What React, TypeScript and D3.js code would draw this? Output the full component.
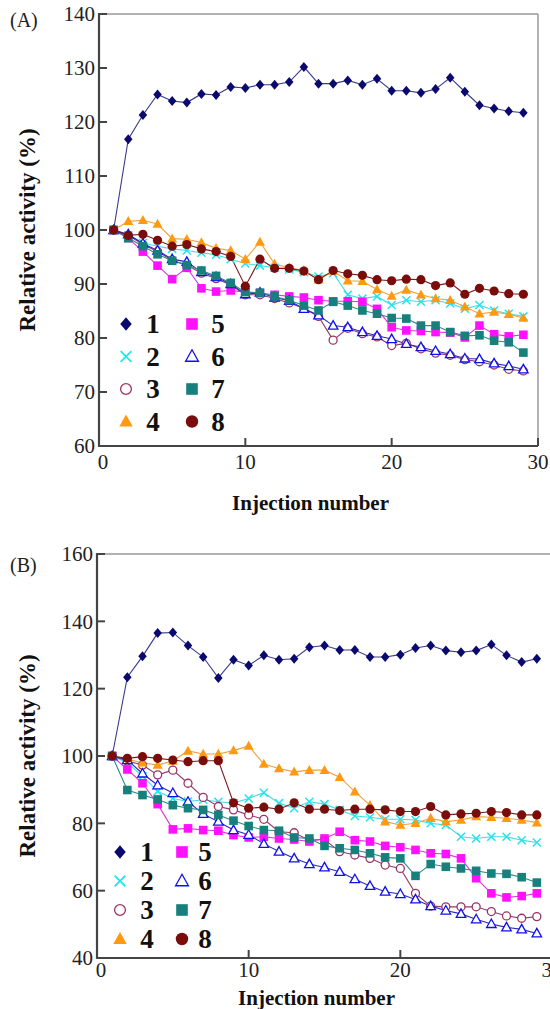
import React from 'react';
import * as d3 from 'd3';

// injection numbers 1..29
const injections = d3.range(1, 30);

// panel (A) relative activity, series 1-8
const a1 = [100, 116.8, 121.3, 125.1, 123.9, 123.6, 125.2, 125.0, 126.5, 126.3, 126.9, 126.9, 127.4, 130.2, 127.1, 127.1, 127.7, 126.9, 128.0, 125.8, 125.8, 125.4, 126.1, 128.2, 125.6, 123.1, 122.5, 122.0, 121.7];
const a2 = [100, 99.0, 97.6, 97.0, 96.5, 96.2, 95.8, 95.4, 94.6, 93.8, 93.4, 93.0, 92.7, 92.2, 91.4, 92.0, 88.0, 87.3, 87.7, 86.1, 87.0, 86.7, 87.0, 86.4, 85.4, 86.1, 85.1, 84.5, 84.0];
const a3 = [100, 99.0, 97.3, 96.0, 94.4, 93.5, 92.0, 91.0, 89.8, 88.0, 88.0, 87.3, 86.5, 85.5, 84.0, 79.6, 81.8, 80.8, 80.2, 78.6, 79.0, 78.0, 77.2, 76.8, 76.0, 75.6, 75.0, 74.2, 73.9];
const a4 = [100, 101.6, 101.8, 101.1, 98.4, 98.3, 97.7, 96.6, 96.2, 94.6, 97.8, 93.7, 93.0, 92.5, 90.8, 92.4, 90.6, 90.5, 89.0, 87.8, 88.9, 88.0, 87.3, 87.0, 85.8, 84.5, 84.8, 84.4, 83.7];
const a5 = [100, 98.5, 96.0, 93.4, 90.9, 93.0, 89.2, 88.6, 88.8, 88.5, 88.3, 88.0, 87.7, 87.5, 87.0, 86.8, 86.8, 86.7, 85.4, 82.0, 81.4, 81.3, 81.1, 81.0, 80.1, 82.3, 80.7, 80.3, 80.6];
const a6 = [100, 99.2, 97.5, 96.2, 94.6, 94.1, 92.2, 91.3, 90.0, 88.1, 88.4, 87.5, 86.9, 85.4, 84.2, 82.3, 82.0, 81.1, 80.4, 79.8, 78.9, 78.3, 77.6, 77.0, 76.2, 76.1, 75.3, 74.8, 74.2];
const a7 = [100, 98.5, 97.0, 95.5, 94.3, 93.5, 92.5, 91.5, 90.2, 88.5, 88.4, 87.7, 87.0, 86.0, 85.1, 86.7, 86.0, 85.1, 84.5, 83.7, 83.6, 82.3, 82.3, 81.1, 80.4, 80.5, 79.5, 79.2, 77.3];
const a8 = [100, 99.0, 99.2, 98.1, 97.0, 97.3, 96.5, 96.0, 95.1, 89.6, 94.6, 92.9, 92.9, 92.4, 90.8, 92.5, 91.9, 91.6, 90.8, 90.6, 90.9, 90.8, 89.7, 90.2, 88.1, 89.2, 88.7, 88.2, 88.1];

// panel (B)
const b1 = [100, 123.4, 129.6, 136.5, 136.7, 132.8, 129.4, 123.2, 128.6, 126.9, 129.9, 128.6, 128.9, 132.3, 132.8, 131.5, 131.5, 129.4, 129.4, 130.1, 132.1, 132.8, 131.3, 130.8, 131.3, 133.1, 129.9, 127.9, 128.9];
const b2 = [100, 98.0, 94.0, 89.5, 87.4, 86.5, 87.0, 86.4, 86.0, 87.4, 89.1, 86.0, 84.5, 86.4, 85.7, 84.0, 82.2, 81.8, 81.2, 81.2, 81.0, 80.0, 79.5, 76.0, 75.5, 76.0, 76.0, 75.0, 74.3];
const b3 = [100, 98.5, 97.3, 94.4, 95.8, 91.9, 87.7, 85.0, 84.0, 82.5, 81.2, 77.5, 77.2, 75.0, 75.2, 71.6, 70.6, 69.6, 67.6, 66.6, 59.2, 55.4, 55.2, 55.2, 55.2, 53.8, 52.5, 51.8, 52.3];
const b4 = [100, 99.0, 98.0, 97.3, 98.5, 101.5, 100.6, 100.6, 101.6, 103.0, 97.6, 96.3, 95.3, 95.8, 95.8, 93.7, 89.4, 85.4, 80.5, 79.5, 80.0, 81.5, 80.5, 81.0, 82.0, 81.8, 81.5, 81.0, 80.2];
const b5 = [100, 96.0, 91.9, 85.7, 78.2, 78.5, 78.0, 77.8, 76.5, 75.8, 76.0, 75.5, 75.2, 74.6, 75.5, 77.5, 75.0, 74.6, 73.3, 72.9, 72.1, 71.1, 70.9, 69.6, 63.7, 59.2, 58.0, 58.4, 59.2];
const b6 = [100, 98.8, 94.8, 91.3, 89.0, 86.4, 82.8, 80.5, 78.0, 76.6, 73.9, 71.6, 69.6, 67.9, 66.9, 65.6, 63.4, 61.4, 59.7, 59.0, 57.4, 55.4, 54.1, 53.1, 51.5, 50.1, 49.1, 48.5, 47.3];
const b7 = [100, 89.9, 88.4, 87.1, 85.4, 84.5, 84.0, 82.5, 80.8, 79.2, 78.0, 77.8, 75.8, 75.5, 73.3, 72.6, 72.1, 71.1, 69.9, 69.6, 64.4, 67.9, 67.1, 66.6, 65.9, 65.1, 65.0, 64.0, 62.4];
const b8 = [100, 99.3, 99.8, 99.3, 98.8, 98.3, 98.6, 98.6, 86.1, 84.5, 84.8, 84.2, 86.1, 84.2, 84.2, 83.8, 84.2, 84.2, 84.0, 83.5, 83.5, 85.0, 82.5, 82.8, 83.0, 83.5, 83.2, 82.5, 82.5];

const seriesNames = ['1', '2', '3', '4', '5', '6', '7', '8'];
const xTicks = [0, 10, 20, 30];
const yTicksA = [60, 70, 80, 90, 100, 110, 120, 130, 140];
const yTicksB = [40, 60, 80, 100, 120, 140, 160];

const styles = [
  { shape: 'diamond', color: '#0a0a6e', line: '#3a3a8c' },
  { shape: 'x', color: '#22e5ee', line: '#44dde6' },
  { shape: 'ocircle', color: '#993366', line: '#8e3a72' },
  { shape: 'triangle', color: '#ff9a10', line: '#f0a040' },
  { shape: 'square', color: '#ff10ff', line: '#dd33dd' },
  { shape: 'otriangle', color: '#1010ee', line: '#2a2ab8' },
  { shape: 'square', color: '#17807c', line: '#2a8a8a' },
  { shape: 'circle', color: '#7a0c0c', line: '#7a1a1a' },
];

const FONT = '"Liberation Serif", "Times New Roman", serif';

function Marker({ shape, color, x, y, k = 1 }) {
  const r = 5 * k;
  switch (shape) {
    case 'diamond':
      return <polygon points={`${x},${y - r} ${x + r * 0.85},${y} ${x},${y + r} ${x - r * 0.85},${y}`} fill={color} />;
    case 'x': {
      const s = 4 * k;
      return <path d={`M${x - s},${y - s}L${x + s},${y + s}M${x - s},${y + s}L${x + s},${y - s}`} stroke={color} strokeWidth={1.5 * Math.sqrt(k)} />;
    }
    case 'ocircle':
      return <circle cx={x} cy={y} r={4 * k} fill="#fff" stroke={color} strokeWidth={1.3} />;
    case 'circle':
      return <circle cx={x} cy={y} r={4.6 * k} fill={color} />;
    case 'square':
      return <rect x={x - 4.3 * k} y={y - 4.3 * k} width={8.6 * k} height={8.6 * k} fill={color} />;
    case 'triangle':
      return <polygon points={`${x},${y - r * 1.05} ${x + r},${y + r * 0.75} ${x - r},${y + r * 0.75}`} fill={color} />;
    case 'otriangle':
      return <polygon points={`${x},${y - r} ${x + r * 0.95},${y + r * 0.7} ${x - r * 0.95},${y + r * 0.7}`} fill="#fff" stroke={color} strokeWidth={1.3} />;
    default:
      return null;
  }
}

function Panel({ label, data, yDomain, yTicks, x0, x1, yBottom, yTop, xLabelDy, titleY, legend }) {
  const x = d3.scaleLinear().domain([0, 30]).range([x0, x1]);
  const y = d3.scaleLinear().domain(yDomain).range([yBottom, yTop]);
  const line = d3.line<number>().x((_, i) => x(injections[i])).y(d => y(d));
  const midY = (yBottom + yTop) / 2;
  const midX = (x0 + x1) / 2 - 8;

  return (
    <g fontFamily={FONT}>
      <text x={10} y={label.y} fontSize={20} fill="#222">{label.text}</text>

      {/* frame */}
      <line x1={x0} x2={x1} y1={yTop} y2={yTop} stroke="#999" strokeWidth={1.5} />
      <line x1={x1} x2={x1} y1={yTop} y2={yBottom} stroke="#999" strokeWidth={1.5} />
      <line x1={x0} x2={x0} y1={yTop - 1} y2={yBottom + 1} stroke="#444" strokeWidth={2.2} />
      <line x1={x0 - 1} x2={x1} y1={yBottom} y2={yBottom} stroke="#444" strokeWidth={2.2} />

      {yTicks.map(t => (
        <g key={t}>
          <line x1={x0} x2={x0 + 8} y1={y(t)} y2={y(t)} stroke="#444" strokeWidth={2} />
          <text x={x0 - 4} y={y(t)} dy="0.35em" textAnchor="end" fontSize={21} fill="#222">{t}</text>
        </g>
      ))}
      {xTicks.map(t => (
        <g key={t}>
          <line x1={x(t)} x2={x(t)} y1={yBottom} y2={yBottom - 8} stroke="#444" strokeWidth={2} />
          <text x={x(t) + (t === 0 ? 4 : 0)} y={yBottom + xLabelDy} textAnchor="middle" fontSize={21} fill="#222">{t}</text>
        </g>
      ))}

      <text x={midX} y={titleY} textAnchor="middle" fontSize={21} fontWeight="bold" fill="#111">Injection number</text>
      <text transform={`translate(27,${midY}) rotate(-90)`} textAnchor="middle" dominantBaseline="central" fontSize={23} fontWeight="bold" fill="#111">Relative activity (%)</text>

      {data.map((vals, si) => (
        <path key={'l' + si} d={line(vals) || ''} fill="none" stroke={styles[si].line} strokeWidth={1.1} />
      ))}
      {data.map((vals, si) => (
        <g key={'m' + si}>
          {vals.map((v, i) => (
            <Marker key={i} shape={styles[si].shape} color={styles[si].color} x={x(injections[i])} y={y(v)} />
          ))}
        </g>
      ))}

      {seriesNames.map((name, i) => {
        const col = i < 4 ? 0 : 1;
        const row = i % 4;
        const mx = legend.mx[col];
        const ty = legend.y0 + row * legend.dy;
        return (
          <g key={name}>
            <Marker shape={styles[i].shape} color={styles[i].color} x={mx} y={ty} k={1.35} />
            <text x={legend.tx[col]} y={ty} dy="0.35em" textAnchor="middle" fontSize={27} fontWeight="bold" fill="#111">{name}</text>
          </g>
        );
      })}
    </g>
  );
}

export default function App() {
  return (
    <div style={{ position: 'absolute', left: 0, top: 0 }}>
      <svg width={550} height={1009} style={{ display: 'block', background: '#fff' }}>
        <Panel
          label={{ text: '(A)', y: 27 }}
          data={[a1, a2, a3, a4, a5, a6, a7, a8]}
          yDomain={[60, 140]}
          yTicks={yTicksA}
          x0={99}
          x1={538}
          yBottom={446}
          yTop={14}
          xLabelDy={23}
          titleY={510}
          legend={{ mx: [126, 192], tx: [153, 218], y0: 324, dy: 32.5 }}
        />
        <Panel
          label={{ text: '(B)', y: 572 }}
          data={[b1, b2, b3, b4, b5, b6, b7, b8]}
          yDomain={[40, 160]}
          yTicks={yTicksB}
          x0={97}
          x1={552}
          yBottom={958}
          yTop={554}
          xLabelDy={19}
          titleY={1005}
          legend={{ mx: [120, 182], tx: [147, 205], y0: 852, dy: 29 }}
        />
      </svg>
    </div>
  );
}
